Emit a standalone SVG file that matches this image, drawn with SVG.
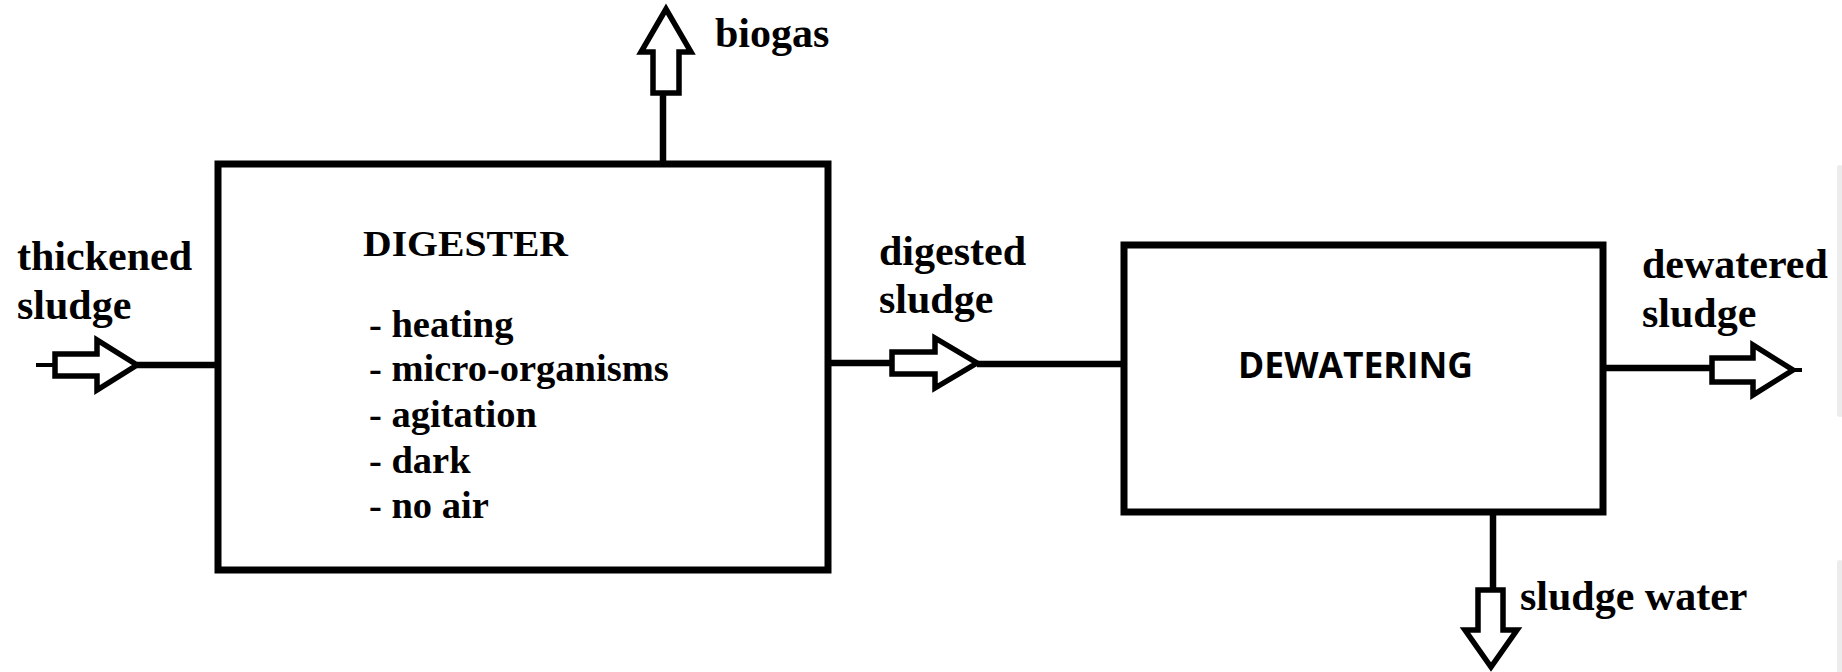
<svg xmlns="http://www.w3.org/2000/svg" width="1842" height="672" viewBox="0 0 1842 672">
  <style>
    .box { fill: #ffffff; stroke: #000000; stroke-width: 7; }
    .line { fill: none; stroke: #000000; stroke-width: 6.5; }
    .thin { fill: none; stroke: #000000; stroke-width: 4; }
    .arrow { fill: #ffffff; stroke: #000000; stroke-width: 5.5; stroke-linejoin: miter; }
    .lbl { font-family: "Liberation Serif", "Times New Roman", serif; font-weight: bold; font-size: 42px; fill: #000000; }
    .item { font-family: "Liberation Serif", "Times New Roman", serif; font-weight: bold; font-size: 38.5px; fill: #000000; }
    .title { font-family: "Liberation Serif", "Times New Roman", serif; font-weight: bold; font-size: 35px; fill: #000000; }
    .sans { font-family: "Open Sans", "Liberation Sans", sans-serif; font-weight: bold; font-size: 35px; fill: #000000; }
  </style>
  <rect width="1842" height="672" fill="#ffffff"/>

  <!-- faint edge strips at the right border -->
  <rect x="1837" y="165" width="6" height="252" rx="3" fill="#ececec"/>
  <rect x="1837" y="560" width="6" height="120" rx="3" fill="#ececec"/>

  <!-- connectors and flow arrows -->
  <g id="connectors">
    <!-- thickened sludge in -->
    <line class="thin" x1="36" y1="365" x2="55" y2="365"/>
    <line class="line" x1="137" y1="365" x2="218" y2="365"/>
    <polygon class="arrow" points="55,354 97,354 97,340 137,365 97,390 97,376 55,376"/>

    <!-- biogas out -->
    <line class="line" x1="663" y1="93" x2="663" y2="164"/>
    <polygon class="arrow" points="653,93 653,52 641,52 666,9 691,52 679,52 679,93"/>

    <!-- digested sludge to dewatering -->
    <line class="line" x1="828" y1="363" x2="892" y2="363"/>
    <line class="line" x1="977" y1="364" x2="1124" y2="364"/>
    <polygon class="arrow" points="892,352 935,352 935,338 977,363 935,388 935,374 892,374"/>

    <!-- dewatered sludge out -->
    <line class="line" x1="1603" y1="368" x2="1712" y2="368"/>
    <polygon class="arrow" points="1712,358 1753,358 1753,345 1793,370 1753,395 1753,382 1712,382"/>
    <line class="thin" x1="1793" y1="370" x2="1802" y2="370"/>

    <!-- sludge water out -->
    <line class="line" x1="1493" y1="512" x2="1493" y2="590"/>
    <polygon class="arrow" points="1478,590 1478,630 1465,630 1491,667 1517,630 1503,630 1503,590"/>
  </g>

  <!-- digester -->
  <g id="digester">
    <rect class="box" x="218" y="164" width="610" height="406"/>
    <text class="title" x="363" y="256" textLength="205" lengthAdjust="spacingAndGlyphs">DIGESTER</text>
    <text class="item" x="369" y="337">- heating</text>
    <text class="item" x="369" y="381">- micro-organisms</text>
    <text class="item" x="369" y="427">- agitation</text>
    <text class="item" x="369" y="473">- dark</text>
    <text class="item" x="369" y="518">- no air</text>
  </g>

  <!-- dewatering -->
  <g id="dewatering">
    <rect class="box" x="1124" y="245" width="479" height="267"/>
    <text class="sans" x="1238" y="378" textLength="235" lengthAdjust="spacingAndGlyphs">DEWATERING</text>
  </g>

  <!-- stream labels -->
  <g id="label-thickened">
    <text class="lbl" x="17" y="270">thickened</text>
    <text class="lbl" x="17" y="319">sludge</text>
  </g>
  <g id="label-biogas">
    <text class="lbl" x="715" y="47">biogas</text>
  </g>
  <g id="label-digested">
    <text class="lbl" x="879" y="265">digested</text>
    <text class="lbl" x="879" y="313">sludge</text>
  </g>
  <g id="label-dewatered">
    <text class="lbl" x="1642" y="278">dewatered</text>
    <text class="lbl" x="1642" y="327">sludge</text>
  </g>
  <g id="label-water">
    <text class="lbl" x="1520" y="610">sludge water</text>
  </g>
</svg>
